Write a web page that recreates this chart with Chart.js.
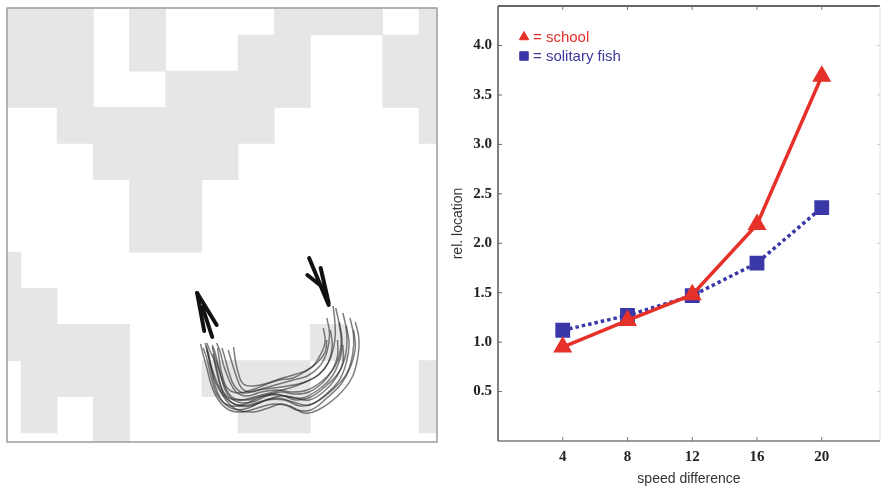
<!DOCTYPE html>
<html>
<head>
<meta charset="utf-8">
<script src="https://cdn.jsdelivr.net/npm/chart.js"></script>
<style>
  body { margin: 0; background: #fff; }
  #arena { position: absolute; left: 0; top: 0; }
  #speed { position: absolute; left: 445px; top: 0; }
</style>
</head>
<body>
<canvas id="arena" width="445" height="489"></canvas>
<canvas id="speed" width="439" height="489"></canvas>
<script>
// ================= DATA: right panel =================
const speedDiff = [4, 8, 12, 16, 20];
const schoolLoc = [0.95, 1.22, 1.48, 2.19, 3.69];
const solitaryLoc = [1.12, 1.27, 1.47, 1.80, 2.36];
const xTicks = [4, 8, 12, 16, 20];
const yTicks = [0.5, 1.0, 1.5, 2.0, 2.5, 3.0, 3.5, 4.0];
const seriesNames = ["school", "solitary fish"];

// ================= DATA: left panel =================
// grey cells, one run per entry: column, first row, row after last (rows top-down)
const cellCol    = [-1, -1, 0, 0, 1, 1, 2, 2, 3, 3, 4, 5, 5, 6, 6, 7, 7, 8, 8, 9, 10, 11, 11];
const cellTop    = [-1, 6, -1, 7, -1, 8, 2, 8, -1, 2, 1, 1, 9, 0, 9, -1, 9, -1, 8, -1, 0, -1, 9];
const cellBottom = [2, 9, 2, 11, 3, 10, 4, 12, 1, 6, 6, 4, 10, 3, 11, 2, 11, 0, 9, 0, 2, 3, 11];

// fish tracks in arena units
const tracks = [
  [[365,314],[369,330],[368,348],[361,370],[345,388],[323,402],[308,405],[291,398],[273,396],[255,400],[238,404],[223,402],[211,392],[203,377],[198,360],[193,344],[191,336]],
  [[359,310],[363,327],[362,346],[355,366],[339,382],[319,395],[303,398],[285,392],[265,392],[245,397],[229,396],[217,388],[208,375],[203,360],[200,346],[196,335]],
  [[351,305],[355,322],[355,342],[348,362],[333,377],[315,389],[298,392],[281,387],[261,388],[243,392],[228,390],[219,380],[213,366],[208,352],[204,339]],
  [[343,300],[347,317],[349,337],[343,357],[329,372],[311,382],[293,384],[277,382],[259,384],[243,388],[231,384],[223,372],[217,358],[213,344],[209,335]],
  [[340,298],[342,314],[342,332],[336,352],[323,367],[305,375],[289,378],[273,380],[255,382],[239,385],[229,378],[223,365],[219,352],[215,340]],
  [[333,310],[336,326],[333,344],[325,358],[311,368],[295,372],[279,376],[263,380],[247,384],[237,380],[231,368],[226,354],[222,342]],
  [[329,320],[331,334],[325,348],[315,360],[299,366],[283,370],[267,375],[251,378],[239,376],[233,364],[230,352],[228,339]],
  [[337,322],[339,338],[335,354],[325,366],[309,374],[291,380],[273,384],[255,388],[237,392],[223,390],[215,382],[211,368],[207,354],[201,342],[198,335]],
  [[347,314],[350,332],[348,350],[339,368],[323,382],[305,390],[287,388],[269,386],[251,392],[233,398],[219,396],[209,386],[203,370],[199,354],[194,340]],
  [[355,318],[358,336],[355,354],[347,372],[331,387],[313,397],[295,394],[277,390],[259,394],[241,401],[225,400],[213,390],[206,374],[202,358],[198,342]],
  [[363,322],[365,340],[359,360],[349,376],[333,390],[315,402],[299,402],[283,396],[267,400],[251,404],[233,402],[221,394],[212,380],[205,364],[200,349],[197,338]],
  [[333,332],[331,344],[323,354],[311,362],[295,370],[279,372],[263,377],[248,382],[233,385],[221,380],[215,366],[212,352],[210,340]],
  [[345,332],[345,348],[339,362],[329,374],[313,384],[297,386],[281,384],[265,388],[249,394],[233,394],[221,386],[215,372],[211,358],[207,344],[204,337]],
  [[351,337],[351,354],[343,370],[329,384],[313,392],[297,390],[281,388],[265,392],[247,398],[231,397],[219,388],[212,374],[208,360],[205,346]]
];

// the two direction arrows, as strokes
const arrowStrokes = [
  [[187,285],[195,323]], [[187,285],[209,317]], [[193,299],[204,329]],
  [[313,250],[335,297]], [[326,260],[335,295]], [[311,267],[328,279]]
];

// ================= STYLE =================
const RED = "#e6302a";
const BLUE = "#3a38a8";
const SERIF = "'Liberation Serif', 'Times New Roman', serif";
const SANS = "'Liberation Sans', Arial, sans-serif";
const TICK_FONT = { family: SERIF, size: 15, weight: "bold" };

const toXY = pts => pts.map(p => ({ x: p[0], y: p[1] }));

// ================= LEFT: arena =================
const arenaFrame = {
  id: "arenaFrame",
  afterDraw(chart) {
    const { ctx, chartArea: a } = chart;
    ctx.save();
    ctx.strokeStyle = "#9c9c9c";
    ctx.lineWidth = 1.5;
    ctx.strokeRect(a.left, a.top, a.right - a.left, a.bottom - a.top);
    ctx.restore();
  }
};

new Chart(document.getElementById("arena"), {
  type: "bar",
  data: {
    datasets: [
      ...arrowStrokes.map(s => ({
        type: "line", data: toXY(s), xAxisID: "tx", yAxisID: "ty",
        borderColor: "#111", borderWidth: 4, borderCapStyle: "round",
        pointRadius: 0, order: 1
      })),
      ...tracks.map(t => ({
        type: "line", data: toXY(t), xAxisID: "tx", yAxisID: "ty",
        borderColor: "rgba(40,40,40,0.6)", borderWidth: 1.5, tension: 0.4,
        pointRadius: 0, order: 2
      })),
      {
        type: "bar",
        data: cellCol.map((c, i) => ({ x: c + 0.5, y: [cellTop[i], cellBottom[i]] })),
        xAxisID: "x", yAxisID: "y",
        backgroundColor: "#e6e6e6", borderWidth: 0, grouped: false,
        barPercentage: 1, categoryPercentage: 1, order: 3
      }
    ]
  },
  options: {
    responsive: false,
    animation: false,
    devicePixelRatio: 1,
    layout: { autoPadding: false, padding: { left: 7, top: 8, right: 8, bottom: 47 } },
    plugins: { legend: { display: false }, tooltip: { enabled: false } },
    scales: {
      x: { type: "linear", min: -0.387, max: 11.5, offset: false, display: false,
           ticks: { stepSize: 1, includeBounds: false } },
      y: { type: "linear", min: -0.746, max: 11.25, reverse: true, display: false },
      tx: { type: "linear", axis: "x", min: 0, max: 430, display: false },
      ty: { type: "linear", axis: "y", min: 0, max: 434, reverse: true, display: false }
    }
  },
  plugins: [arenaFrame]
});

// ================= RIGHT: relative location =================
const speedFrame = {
  id: "speedFrame",
  beforeDatasetsDraw(chart) {
    const { ctx, chartArea: a, scales } = chart;
    ctx.save();
    const line = (x1, y1, x2, y2, color, w) => {
      ctx.beginPath();
      ctx.strokeStyle = color;
      ctx.lineWidth = w;
      ctx.moveTo(x1, y1);
      ctx.lineTo(x2, y2);
      ctx.stroke();
    };
    line(a.left, a.top, a.right, a.top, "#333", 1.5);
    line(a.right, a.top, a.right, a.bottom, "#e2e2e2", 1);
    line(a.left, a.bottom, a.right, a.bottom, "#9a9a9a", 2);
    line(a.left, a.top, a.left, a.bottom, "#555", 1.5);
    xTicks.forEach(v => {
      const px = scales.x.getPixelForValue(v);
      line(px, a.bottom, px, a.bottom - 4, "#777", 1);
      line(px, a.top, px, a.top + 4, "#777", 1);
    });
    yTicks.forEach(v => {
      const py = scales.y.getPixelForValue(v);
      line(a.left, py, a.left + 4, py, "#666", 1);
      line(a.right, py, a.right - 3, py, "#ccc", 1);
    });
    ctx.restore();
  }
};

const speedLegend = {
  id: "speedLegend",
  afterDraw(chart) {
    const { ctx, chartArea: a } = chart;
    const rows = [
      { style: "triangle", color: RED, text: "= " + seriesNames[0], textColor: "#e0302c" },
      { style: "rect", color: BLUE, text: "= " + seriesNames[1], textColor: "#3d389e" }
    ];
    ctx.save();
    ctx.font = "15px " + SANS;
    ctx.textBaseline = "alphabetic";
    rows.forEach((r, i) => {
      const y = a.top + 36 + i * 19;
      ctx.fillStyle = r.color;
      ctx.strokeStyle = r.color;
      ctx.lineWidth = 1;
      Chart.helpers.drawPoint(ctx, { pointStyle: r.style, radius: r.style === "rect" ? 6 : 5.5, borderWidth: 1 },
        a.left + 26, y - 5);
      ctx.fillStyle = r.textColor;
      ctx.fillText(r.text, a.left + 35, y);
    });
    ctx.restore();
  }
};

new Chart(document.getElementById("speed"), {
  type: "line",
  data: {
    datasets: [
      {
        label: seriesNames[0],
        data: speedDiff.map((x, i) => ({ x, y: schoolLoc[i] })),
        borderColor: RED, backgroundColor: RED, borderWidth: 3.5,
        pointStyle: "triangle", pointRadius: 7.5, pointHoverRadius: 7.5,
        order: 1
      },
      {
        label: seriesNames[1],
        data: speedDiff.map((x, i) => ({ x, y: solitaryLoc[i] })),
        borderColor: BLUE, backgroundColor: BLUE, borderWidth: 3.5,
        borderDash: [3.5, 3],
        pointStyle: "rect", pointRadius: 8, pointHoverRadius: 8,
        order: 2
      }
    ]
  },
  options: {
    responsive: false,
    animation: false,
    devicePixelRatio: 1,
    layout: { autoPadding: false, padding: { top: 6, right: 4, left: 0, bottom: 0 } },
    plugins: { legend: { display: false }, tooltip: { enabled: false } },
    scales: {
      x: {
        type: "linear", min: 0, max: 23.6,
        grid: { display: false, drawTicks: false }, border: { display: false },
        afterBuildTicks: s => { s.ticks = xTicks.map(v => ({ value: v })); },
        afterFit: s => { s.height = 48; s.paddingLeft = 0; s.paddingRight = 0; },
        ticks: { padding: 7, font: TICK_FONT, color: "#222" },
        title: { display: true, text: "speed difference", color: "#333",
                 font: { family: SANS, size: 14 }, padding: { top: 0, bottom: 1 } }
      },
      y: {
        type: "linear", min: 0, max: 4.4,
        grid: { display: false, drawTicks: false }, border: { display: false },
        afterBuildTicks: s => { s.ticks = yTicks.map(v => ({ value: v })); },
        afterFit: s => { s.width = 53; s.paddingTop = 0; s.paddingBottom = 0; },
        ticks: { padding: 6, font: TICK_FONT, color: "#222", callback: v => v.toFixed(1) },
        title: { display: true, text: "rel. location", color: "#333",
                 font: { family: SANS, size: 14 }, padding: { top: 5, bottom: 0 } }
      }
    }
  },
  plugins: [speedFrame, speedLegend]
});
</script>
</body>
</html>
